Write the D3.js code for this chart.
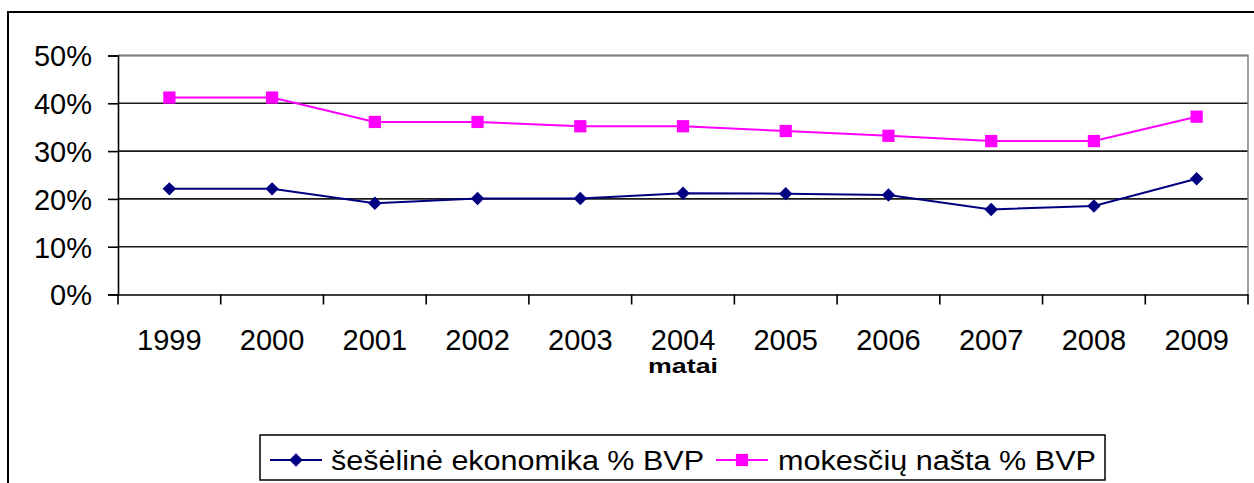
<!DOCTYPE html>
<html>
<head>
<meta charset="utf-8">
<script src="https://cdn.jsdelivr.net/npm/d3@7"></script>
<style>
  html, body { margin: 0; padding: 0; background: #fff; }
  svg { display: block; }
  text { font-family: "Liberation Sans", Arial, sans-serif; fill: #000; }
</style>
</head>
<body>
<svg id="chart" width="1254" height="483"></svg>
<script>
const years = ["1999","2000","2001","2002","2003","2004","2005","2006","2007","2008","2009"];
const shadowEconomy = [22.1, 22.1, 19.1, 20.1, 20.1, 21.2, 21.1, 20.8, 17.8, 18.5, 24.2];
const taxBurden = [41.2, 41.2, 36.1, 36.1, 35.2, 35.2, 34.2, 33.2, 32.1, 32.1, 37.2];
const yTicks = [0, 10, 20, 30, 40, 50];
const seriesNames = ["šešėlinė ekonomika % BVP", "mokesčių našta % BVP"];
const xTitle = "matai";

const svg = d3.select("#chart");
const W = 1254, H = 483;
const plot = { left: 118, right: 1248, top: 55.5, bottom: 294.5 };

// outer chart frame
svg.append("rect").attr("x", 8).attr("y", 12).attr("width", W).attr("height", H)
  .attr("fill", "none").attr("stroke", "#000").attr("stroke-width", 2);

const x = d3.scaleBand().domain(years).range([plot.left, plot.right]).padding(0);
const y = d3.scaleLinear().domain([0, 50]).range([plot.bottom, plot.top]);

// gridlines
svg.append("g").selectAll("line").data(yTicks.filter(d => d > 0)).join("line")
  .attr("x1", plot.left).attr("x2", plot.right)
  .attr("y1", d => y(d)).attr("y2", d => y(d))
  .attr("stroke", "#1a1a1a").attr("stroke-width", 1.6);

// plot area border (top & right, gray)
svg.append("path")
  .attr("d", `M${plot.left},${plot.top}H${plot.right}V${plot.bottom}`)
  .attr("fill", "none").attr("stroke", "#808080").attr("stroke-width", 1.5);

// y axis
const yAxis = d3.axisLeft(y).tickValues(yTicks).tickFormat(d => d + "%").tickSize(10).tickPadding(16);
const gy = svg.append("g").attr("transform", `translate(${plot.left},0)`).call(yAxis);
gy.select(".domain").attr("stroke", "#000").attr("stroke-width", 1.6);
gy.selectAll(".tick line").attr("stroke", "#000").attr("stroke-width", 1.6);
gy.selectAll(".tick text").attr("font-size", 29).attr("font-family", "Liberation Sans, Arial, sans-serif")
  .attr("fill", "#000").attr("dy", "0.36em");

// x axis
const xAxis = d3.axisBottom(x).tickSize(0).tickPadding(0);
const gx = svg.append("g").attr("transform", `translate(0,${plot.bottom})`).call(xAxis);
gx.select(".domain").attr("stroke", "#000").attr("stroke-width", 1.6);
gx.selectAll(".tick text").attr("font-size", 29).attr("font-family", "Liberation Sans, Arial, sans-serif")
  .attr("fill", "#000").attr("y", 55).attr("dy", 0);
// x tick marks between categories
const boundaries = years.map(d => x(d)).concat([plot.right]);
svg.append("g").selectAll("line").data(boundaries).join("line")
  .attr("x1", d => d).attr("x2", d => d)
  .attr("y1", plot.bottom).attr("y2", plot.bottom + 10)
  .attr("stroke", "#000").attr("stroke-width", 1.6);

// axis title
svg.append("text").attr("x", (plot.left + plot.right) / 2).attr("y", 373)
  .attr("text-anchor", "middle").attr("font-size", 21).attr("font-weight", "bold")
  .attr("textLength", 70).attr("lengthAdjust", "spacingAndGlyphs").text(xTitle);

const cx = d => x(d) + x.bandwidth() / 2;
const line = d3.line().x(d => cx(d.year)).y(d => y(d.v));

const blue = "#000080", pink = "#FF00FF";
const sData = years.map((yr, i) => ({ year: yr, v: shadowEconomy[i] }));
const tData = years.map((yr, i) => ({ year: yr, v: taxBurden[i] }));

svg.append("path").datum(tData).attr("d", line).attr("fill", "none").attr("stroke", pink).attr("stroke-width", 2);
svg.append("path").datum(sData).attr("d", line).attr("fill", "none").attr("stroke", blue).attr("stroke-width", 2);

const sq = d3.symbol().type(d3.symbolSquare).size(150);
const dia = d3.symbol().type(d3.symbolDiamond2).size(115);

svg.append("g").selectAll("path").data(tData).join("path")
  .attr("d", sq).attr("transform", d => `translate(${cx(d.year)},${y(d.v)})`).attr("fill", pink);
svg.append("g").selectAll("path").data(sData).join("path")
  .attr("d", dia).attr("transform", d => `translate(${cx(d.year)},${y(d.v)})`).attr("fill", blue);

// legend
const lg = svg.append("g");
lg.append("rect").attr("x", 260).attr("y", 435).attr("width", 845).attr("height", 45)
  .attr("fill", "#fff").attr("stroke", "#000").attr("stroke-width", 1.5);
const legendItems = [
  { name: seriesNames[0], color: blue, sym: dia, x0: 270, tx: 331, tw: 373 },
  { name: seriesNames[1], color: pink, sym: sq, x0: 716, tx: 778, tw: 318 }
];
legendItems.forEach(it => {
  lg.append("line").attr("x1", it.x0).attr("x2", it.x0 + 52).attr("y1", 460).attr("y2", 460)
    .attr("stroke", it.color).attr("stroke-width", 2);
  lg.append("path").attr("d", it.sym).attr("transform", `translate(${it.x0 + 26},460)`).attr("fill", it.color);
  lg.append("text").attr("x", it.tx).attr("y", 470).attr("font-size", 27)
    .attr("textLength", it.tw).attr("lengthAdjust", "spacingAndGlyphs").text(it.name);
});
</script>
</body>
</html>
